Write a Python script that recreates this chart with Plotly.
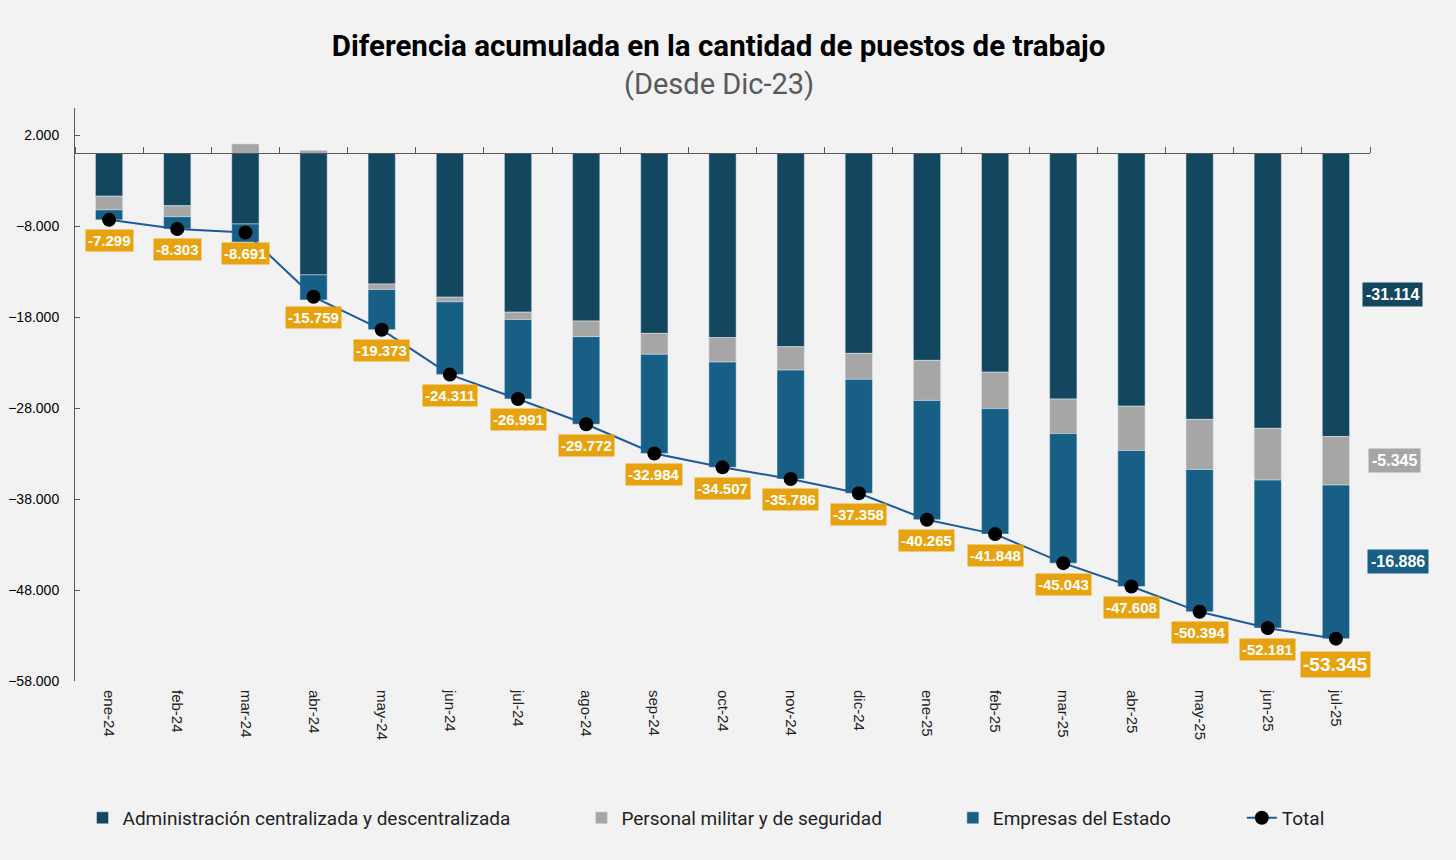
import plotly.graph_objects as go

meses = ["ene-24", "feb-24", "mar-24", "abr-24", "may-24", "jun-24", "jul-24",
         "ago-24", "sep-24", "oct-24", "nov-24", "dic-24", "ene-25", "feb-25",
         "mar-25", "abr-25", "may-25", "jun-25", "jul-25"]

administracion = [-4700, -5750, -7750, -13350, -14350, -15800, -17450, -18420,
                  -19780, -20250, -21250, -21980, -22750, -24050, -27000, -27790,
                  -29240, -30220, -31114]
militar = [-1500, -1200, 1050, 350, -600, -500, -800, -1720, -2300, -2680,
           -2570, -2850, -4400, -4000, -3800, -4870, -5500, -5690, -5345]
empresas = [-1100, -1350, -1990, -2760, -4420, -8010, -8740, -9630, -10900,
            -11580, -11970, -12530, -13120, -13800, -14240, -14950, -15650,
            -16270, -16886]
total = [-7299, -8303, -8691, -15759, -19373, -24311, -26991, -29772, -32984,
         -34507, -35786, -37358, -40265, -41848, -45043, -47608, -50394, -52181,
         -53345]

C_ADM = "#13465F"
C_MIL = "#A6A6A6"
C_EMP = "#175F85"
C_NAR = "#E7A30F"
C_LIN = "#1F5B98"
BG = "#F2F2F2"

Y_MIN, Y_MAX = -58000, 5000


def fmt(v):
    return f"{v:,}".replace(",", ".")


fig = go.Figure()
pad = "\u00a0" * 14
fig.add_trace(go.Bar(x=meses, y=administracion, name="Administración centralizada y descentralizada" + pad,
                     marker_color=C_ADM, width=0.4))
fig.add_trace(go.Bar(x=meses, y=militar, name="Personal militar y de seguridad" + pad,
                     marker_color=C_MIL, width=0.4))
fig.add_trace(go.Bar(x=meses, y=empresas, name="Empresas del Estado" + pad,
                     marker_color=C_EMP, width=0.4))
fig.add_trace(go.Scatter(x=meses, y=total, name="Total", mode="lines+markers",
                         line=dict(color=C_LIN, width=2),
                         marker=dict(color="black", size=14)))
# eje auxiliar sobre el cero (solo para las marcas entre categorías)
fig.add_trace(go.Scatter(x=meses, y=total, xaxis="x2", mode="markers",
                         marker=dict(opacity=0), showlegend=False, hoverinfo="skip"))

# etiquetas del total
for i, (m, t) in enumerate(zip(meses, total)):
    last = i == len(meses) - 1
    fig.add_annotation(x=m, y=t, text="<b>" + fmt(t) + "</b>", showarrow=False,
                       yshift=-26 if last else -21, bgcolor=C_NAR, borderpad=2,
                       font=dict(family="Liberation Sans, Arial", size=19 if last else 15,
                                 color="white"))

# etiquetas de la última barra
a, b, c = administracion[-1], militar[-1], empresas[-1]
for y, val, col, dx in [(a / 2, a, C_ADM, 57), (a + b / 2, b, C_MIL, 59),
                        (a + b + c / 2, c, C_EMP, 62)]:
    fig.add_annotation(x=meses[-1], y=y, text="<b>" + fmt(val) + "</b>", showarrow=False,
                       xshift=dx, bgcolor=col, borderpad=3,
                       font=dict(family="Liberation Sans, Arial", size=16, color="white"))

fig.add_annotation(text="(Desde Dic-23)", xref="paper", yref="paper", x=0.497, y=1.042,
                   yanchor="middle", showarrow=False,
                   font=dict(family="Roboto", size=29, color="#595959"))

zero_pos = (0 - Y_MIN) / (Y_MAX - Y_MIN)

fig.update_layout(
    width=1456, height=860,
    paper_bgcolor=BG, plot_bgcolor=BG,
    margin=dict(l=75, r=86, t=108, b=179),
    separators=",.",
    barmode="relative",
    title=dict(text="<b>Diferencia acumulada en la cantidad de puestos de trabajo</b>",
               x=0.4935, xanchor="center", y=1 - 46 / 860, yanchor="middle",
               font=dict(family="Roboto", size=29.5, color="black")),
    xaxis=dict(type="category", categoryorder="array", categoryarray=meses,
               range=[-0.5, len(meses) - 0.5], tickangle=90, showline=False,
               ticks="", showgrid=False, ticklabelstandoff=8, automargin=False,
               tickfont=dict(family="Liberation Sans, Arial", size=15, color="#222")),
    xaxis2=dict(type="category", categoryorder="array", categoryarray=meses,
                range=[-0.5, len(meses) - 0.5], overlaying="x", anchor="free",
                position=zero_pos, side="top", showline=True, linecolor="#595959",
                linewidth=1, ticks="outside", tickson="boundaries", ticklen=6,
                tickcolor="#595959", showticklabels=False, showgrid=False,
                automargin=False),
    yaxis=dict(range=[Y_MIN, Y_MAX], tick0=2000, dtick=10000, tickformat=",d",
               showline=True, linecolor="#595959", ticks="inside", ticklen=5,
               tickcolor="#595959", showgrid=False, zeroline=False,
               ticklabelstandoff=12, automargin=False,
               tickfont=dict(family="Liberation Sans, Arial", size=14, color="black")),
    legend=dict(orientation="h", x=0.0058, xanchor="left", y=-0.239, yanchor="middle",
                font=dict(family="Roboto", size=19, color="#222"), bgcolor="rgba(0,0,0,0)"),
    showlegend=True,
)

fig.write_html("out.html", config={"displayModeBar": False},
               post_script="document.body.style.margin='0';"
                           "document.body.style.background='#F2F2F2';")
